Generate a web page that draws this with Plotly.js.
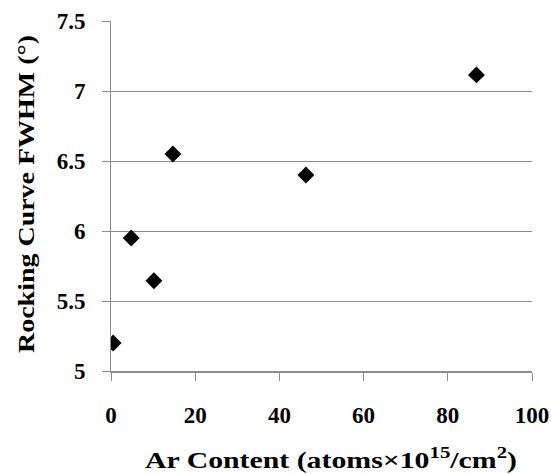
<!DOCTYPE html>
<html>
<head>
<meta charset="utf-8">
<script src="https://cdn.plot.ly/plotly-3.0.1.min.js"></script>
<style>html,body{margin:0;padding:0;background:#fff;}#chart{width:551px;height:474px;}</style>
</head>
<body>
<div id="chart"></div>
<script>
const arContent = [0.5, 4.8, 10.2, 14.7, 46.3, 86.8];
const fwhm = [5.20, 5.95, 5.645, 6.55, 6.40, 7.115];
const xTicks = [0, 20, 40, 60, 80, 100];
const yTicks = [5, 5.5, 6, 6.5, 7, 7.5];
const yTickText = ['5', '5.5', '6', '6.5', '7', '7.5'];
const xTitle = 'Ar Content (atoms×10<sup>15</sup>/cm<sup>2</sup>)';
const yTitle = 'Rocking Curve FWHM (°)';

const serif = 'Liberation Serif, Times New Roman, serif';

function fitTitle(gd, sel, targetLen, cx, cy) {
  const t = gd.querySelector(sel);
  if (!t || !t.getComputedTextLength) return;
  const len = t.getComputedTextLength();
  if (len > 0 && len < targetLen) {
    t.setAttribute('textLength', targetLen);
    t.setAttribute('lengthAdjust', 'spacingAndGlyphs');
  }
  const box = t.getBoundingClientRect();
  const host = gd.getBoundingClientRect();
  if (box.width > 0) {
    const dx = cx - (box.left - host.left + box.width / 2);
    const dy = cy - (box.top - host.top + box.height / 2);
    const prev = t.getAttribute('transform') || '';
    t.setAttribute('transform', 'translate(' + dx.toFixed(1) + ',' + dy.toFixed(1) + ') ' + prev);
  }
}

Plotly.newPlot('chart', [{
  x: arContent,
  y: fwhm,
  type: 'scatter',
  mode: 'markers',
  marker: {symbol: 'diamond', size: 13, color: '#000', line: {width: 0}},
  showlegend: false
}], {
  width: 551, height: 474,
  margin: {l: 111, r: 19, t: 21, b: 103},
  paper_bgcolor: '#fff', plot_bgcolor: '#fff',
  xaxis: {
    range: [0, 100], tickvals: xTicks, ticktext: xTicks.map(String),
    showgrid: false, zeroline: false,
    showline: true, linecolor: '#8c8c8c', linewidth: 2,
    ticks: 'outside', ticklen: 8, tickcolor: '#8c8c8c', tickwidth: 1,
    ticklabelstandoff: 14,
    tickfont: {family: serif, size: 23, color: '#000', weight: 'bold'},
    title: {text: xTitle, font: {family: serif, size: 24, color: '#000', weight: 'bold'}, standoff: 22},
    fixedrange: true
  },
  yaxis: {
    range: [5, 7.5], tickvals: yTicks, ticktext: yTickText,
    showgrid: true, gridcolor: '#8c8c8c', gridwidth: 1,
    zeroline: false,
    showline: true, linecolor: '#8c8c8c', linewidth: 1,
    ticks: 'outside', ticklen: 8, tickcolor: '#8c8c8c', tickwidth: 1,
    ticklabelstandoff: 12,
    tickfont: {family: serif, size: 23, color: '#000', weight: 'bold'},
    title: {text: yTitle, font: {family: serif, size: 24, color: '#000', weight: 'bold'}, standoff: 20},
    fixedrange: true
  }
}, {displayModeBar: false, staticPlot: true}).then(function (gd) {
  fitTitle(gd, '.xtitle', 372, 331, 458);
  fitTitle(gd, '.ytitle', 318, 26, 194);
});
</script>
</body>
</html>
